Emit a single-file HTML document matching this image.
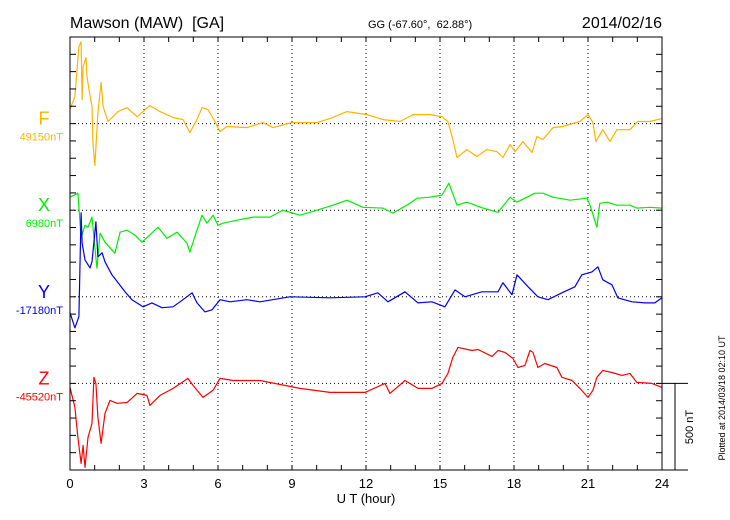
<!DOCTYPE html>
<html><head><meta charset="utf-8"><style>
html,body{margin:0;padding:0;background:#fff;}
svg{display:block;font-family:"Liberation Sans",sans-serif;}
svg text{white-space:pre;}
</style></head><body>
<svg id="chart" width="730" height="520" viewBox="0 0 730 520">
<text x="70" y="28" font-size="16">Mawson (MAW)  [GA]</text>
<text x="368" y="28" font-size="11">GG (-67.60°,  62.88°)</text>
<text x="662" y="28" font-size="16" text-anchor="end">2014/02/16</text>
<text x="366" y="503" font-size="13" text-anchor="middle">U T (hour)</text>
<text transform="translate(725,398) rotate(-90)" font-size="9" text-anchor="middle">Plotted at 2014/03/18 02:10 UT</text>
<text transform="translate(693,427) rotate(-90)" font-size="11" text-anchor="middle">500 nT</text>
<g id="grid"></g><g id="series"></g><g id="axes"></g>
</svg>
<script>
const comps = ["F","X","Y","Z"];
const baseLabels = ["49150nT","6980nT","-17180nT","-45520nT"];
const colors = ["#FFB300","#00EE00","#0000EE","#FF0000"];
const xTicks = [0,3,6,9,12,15,18,21,24];
const fHours = [0,.2,.36,.45,.49,.53,.65,.69,.77,.89,.93,1.01,1.13,1.26,1.34,1.54,1.95,2.31,2.72,3.24,3.65,4.18,4.58,4.86,5.15,5.35,5.59,5.88,6.08,6.36,7.17,7.82,8.23,9.0,10.01,10.54,11.23,12.04,12.69,13.38,13.9,14.59,15.08,15.32,15.52,15.69,16.09,16.5,16.9,17.31,17.55,17.84,18.04,18.36,18.73,18.93,19.17,19.58,19.98,20.67,21.0,21.2,21.32,21.6,21.89,22.17,22.7,23.02,23.51,24];
const fValues = [81,156,444,473,138,329,381,271,196,98,-110,-242,63,237,98,12,69,92,40,104,69,35,23,-52,23,92,81,12,-46,-17,-23,6,-23,6,6,29,69,52,23,12,52,52,40,12,-92,-196,-150,-190,-150,-162,-196,-121,-162,-104,-167,-75,-92,-23,-17,12,52,6,-104,-35,-104,-35,-35,12,12,29];
const xHours = [0,.32,.45,.61,.73,.89,1.09,1.22,1.42,1.82,2.03,2.31,2.63,2.92,3.57,3.93,4.34,4.74,4.86,5.15,5.35,5.55,5.8,6.0,6.2,6.77,7.42,8.11,8.63,9.32,10.01,10.66,11.23,11.88,12.69,13.09,13.66,14.07,14.59,15.08,15.36,15.69,16.09,16.74,17.35,17.84,18.12,18.85,19.17,19.58,20.27,20.96,21.08,21.36,21.48,21.77,22.17,22.7,22.98,23.51,24];
const xValues = [75,98,-162,-87,-98,-40,-335,-133,-185,-248,-127,-115,-144,-185,-98,-162,-127,-190,-242,-115,-29,-75,-29,-87,-75,-58,-40,-40,0,-29,0,29,58,17,12,-17,29,69,75,87,156,29,46,12,-12,75,46,98,98,75,58,69,29,-98,40,46,29,29,12,17,12];
const yHours = [0,.2,.36,.45,.49,.61,.81,.89,1.05,1.13,1.3,1.42,1.7,1.95,2.23,2.51,2.96,3.32,3.73,4.18,4.74,4.95,5.15,5.47,5.76,6.08,6.49,7.17,7.7,8.92,10.54,11.96,12.48,12.89,13.58,14.11,14.67,15.2,15.61,16.01,16.7,17.35,17.55,17.92,18.12,18.57,18.97,19.38,19.94,20.47,20.75,21.16,21.4,21.6,21.97,22.21,22.78,23.31,23.71,24];
const yValues = [-92,-179,-115,485,312,213,167,202,433,231,254,202,127,81,29,-17,-58,-35,-63,-58,0,23,-35,-87,-75,-17,-29,-17,-29,0,-6,0,23,-29,29,-35,-29,-58,40,0,29,29,81,12,127,58,0,-17,23,58,127,144,173,98,69,-6,-29,-35,-35,-6];
const zHours = [0,.2,.32,.45,.53,.61,.73,.89,.97,1.05,1.13,1.26,1.42,1.62,1.91,2.31,2.72,3.12,3.24,3.65,4.18,4.78,4.99,5.39,5.8,6.08,6.61,7.7,9.32,10.54,11.96,12.77,12.97,13.58,14.11,14.67,15.08,15.32,15.52,15.73,16.3,16.54,17.11,17.35,17.63,17.96,18.16,18.44,18.65,18.77,18.97,19.25,19.74,19.94,20.35,20.67,21.0,21.2,21.36,21.6,21.97,22.38,22.7,22.98,23.59,24];
const zValues = [-23,-138,-312,-462,-358,-485,-312,-231,35,0,-196,-346,-173,-98,-115,-110,-58,-69,-127,-69,-29,29,-12,-81,-40,29,17,17,-29,-52,-52,0,-58,17,-29,-29,0,58,150,208,190,196,156,190,179,144,92,104,190,179,92,115,92,35,17,-29,-81,-40,35,75,63,46,58,6,0,-23];
const seriesHours = [fHours,xHours,yHours,zHours];
const seriesValues = [fValues,xValues,yValues,zValues];

const L=70,R=662,T=37,B=470, NS="http://www.w3.org/2000/svg";
const tickStep=(B-T)/25;
const baseY=[T+5*tickStep,T+10*tickStep,T+15*tickStep,T+20*tickStep];
const pxPerNT=(5*tickStep)/500;
function xs(h){return L+(R-L)*h/24;}
function ys(i,v){return baseY[i]-v*pxPerNT;}
function mk(tag,attrs,parent){const e=document.createElementNS(NS,tag);for(const k in attrs)e.setAttribute(k,attrs[k]);parent.appendChild(e);return e;}
const grid=document.getElementById('grid'),axes=document.getElementById('axes'),ser=document.getElementById('series');

xTicks.forEach((t,i)=>{
  if(t>0&&t<24){const g=mk('line',{x1:xs(t),x2:xs(t),y1:T,y2:B,stroke:'#000','stroke-width':1,'stroke-dasharray':'1,3'},grid);
  
  }
  const tx=mk('text',{x:xs(t),y:488,'font-size':13,'text-anchor':'middle'},axes);
  tx.textContent=t;
  
  
});
for(let h=0;h<=24;h++){
  mk('line',{x1:xs(h),x2:xs(h),y1:T,y2:T+5,stroke:'#000'},axes);
  mk('line',{x1:xs(h),x2:xs(h),y1:B,y2:B-5,stroke:'#000'},axes);
}
for(let k=0;k<=25;k++){
  const y=T+k*tickStep;
  mk('line',{x1:L,x2:L+6,y1:y,y2:y,stroke:'#000'},axes);
  mk('line',{x1:R,x2:R-6,y1:y,y2:y,stroke:'#000'},axes);
}
comps.forEach((c,i)=>{
  const g=mk('line',{x1:L,x2:R,y1:baseY[i],y2:baseY[i],stroke:'#000','stroke-dasharray':'1,3'},grid);
  
  
  const lt=mk('text',{x:44,y:baseY[i]+1,'font-size':18,'text-anchor':'middle',fill:colors[i]},axes);
  lt.textContent=c;
  
  
  const bt=mk('text',{x:63,y:baseY[i]+17,'font-size':11,'text-anchor':'end',fill:colors[i]},axes);
  bt.textContent=baseLabels[i];
  
  
  const hs=seriesHours[i],vs=seriesValues[i];
  const pts=hs.map((h,j)=>xs(h).toFixed(1)+','+Math.max(T,Math.min(B,ys(i,vs[j]))).toFixed(1)).join(' ');
  const p=mk('polyline',{points:pts,fill:'none',stroke:colors[i],'stroke-width':1.2,'stroke-linejoin':'round'},ser);
  
  
});
const frame=mk('rect',{x:L,y:T,width:R-L,height:B-T,fill:'none',stroke:'#000'},axes);


mk('line',{x1:R,x2:688,y1:B,y2:B,stroke:'#000'},axes);
mk('line',{x1:R,x2:688,y1:baseY[3],y2:baseY[3],stroke:'#000'},axes);
const sb=mk('line',{x1:675,x2:675,y1:baseY[3],y2:B,stroke:'#000'},axes);


</script>
</body></html>
